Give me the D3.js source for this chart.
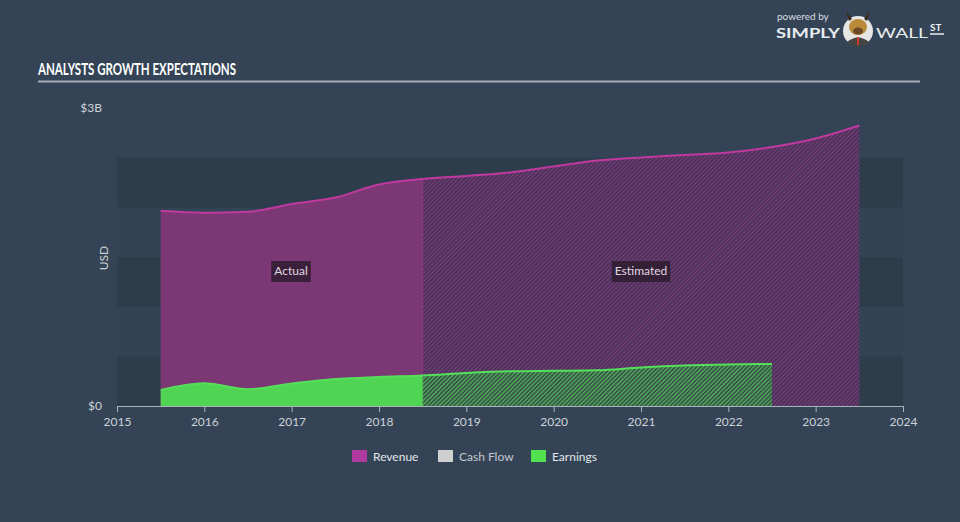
<!DOCTYPE html>
<html><head><meta charset="utf-8">
<script src="https://cdn.jsdelivr.net/npm/d3@7"></script>
<style>
html,body{margin:0;padding:0;background:#344456;}
svg{display:block;}
text{font-family:"Lato","Open Sans",sans-serif;}
</style></head>
<body>
<svg id="chart" width="960" height="522"></svg>
<script>
// ---- data ----
const periods = [2015.5,2016,2016.5,2017,2017.5,2018,2018.5,2019,2019.5,2020,2020.5,2021,2021.5,2022,2022.5,2023,2023.5];
const revenue = [1.966,1.946,1.956,2.034,2.099,2.230,2.285,2.316,2.351,2.411,2.472,2.502,2.527,2.552,2.607,2.693,2.824];
const earningsPeriods = [2015.5,2016,2016.5,2017,2017.5,2018,2018.5,2019,2019.5,2020,2020.5,2021,2021.5,2022,2022.5];
const earnings = [0.161,0.229,0.168,0.227,0.272,0.292,0.307,0.332,0.349,0.354,0.359,0.388,0.408,0.418,0.423];
const splitYear = 2018.5;
const xTicks = [2015,2016,2017,2018,2019,2020,2021,2022,2023,2024];
const yTicks = [0,3];
const yTickLabels = ["$0","$3B"];
const legendItems = ["Revenue","Cash Flow","Earnings"];
const bandValues = [0,0.5,1,1.5,2];

const svg = d3.select("#chart");
const W = 960, H = 522;
svg.append("rect").attr("width",W).attr("height",H).attr("fill","#344456");

const x = d3.scaleLinear().domain([2015,2024]).range([117,903]);
const y = d3.scaleLinear().domain([0,3]).range([406,108]);

// defs: patterns and clips
const defs = svg.append("defs");
function hatch(id, bg, fg){
  const p = defs.append("pattern").attr("id",id).attr("patternUnits","userSpaceOnUse")
    .attr("width",3).attr("height",3).attr("patternTransform","rotate(45)");
  p.append("rect").attr("width",3).attr("height",3).attr("fill",bg);
  p.append("line").attr("x1",0).attr("y1",0).attr("x2",0).attr("y2",3)
    .attr("stroke",fg).attr("stroke-width",1.6);
}
hatch("hatchRev","#4a3457","#8e3b8c");
hatch("hatchEarn","#3b5a4c","#55d35a");
defs.append("clipPath").attr("id","clipActual").append("rect")
  .attr("x",0).attr("y",0).attr("width",x(splitYear)).attr("height",H);
defs.append("clipPath").attr("id","clipEst").append("rect")
  .attr("x",x(splitYear)).attr("y",0).attr("width",W-x(splitYear)).attr("height",H);

// title
svg.append("text").attr("x",38).attr("y",75).text("ANALYSTS GROWTH EXPECTATIONS")
  .attr("fill","#ffffff").attr("font-family","'DejaVu Sans Condensed','Liberation Sans Narrow',sans-serif")
  .attr("font-weight","bold").attr("font-size",17).attr("textLength",198).attr("lengthAdjust","spacingAndGlyphs");
svg.append("line").attr("x1",38).attr("x2",920).attr("y1",81.5).attr("y2",81.5)
  .attr("stroke","#a3abb3").attr("stroke-width",2);

// logo
svg.append("text").attr("x",777).attr("y",20).text("powered by").attr("fill","#d8dde2").attr("font-size",10);
svg.append("text").attr("x",776).attr("y",38).text("SIMPLY").attr("fill","#e8ecef").attr("font-size",14).attr("font-weight","bold").attr("textLength",64).attr("lengthAdjust","spacingAndGlyphs");
const logo = svg.append("g").attr("transform","translate(858,31)");
logo.append("circle").attr("r",15).attr("fill","#e6e6e6");
logo.append("path").attr("d","M-11,11 Q0,2 11,11 A15,15 0 0 1 -11,11Z").attr("fill","#444");
logo.append("ellipse").attr("cx",0).attr("cy",-4).attr("rx",9).attr("ry",8).attr("fill","#b98a3a");
logo.append("path").attr("d","M-9,-10 L-12,-20 L-6,-12Z M9,-10 L12,-20 L6,-12Z").attr("fill","#3a2a1a");
logo.append("ellipse").attr("cx",0).attr("cy",0).attr("rx",5).attr("ry",3.5).attr("fill","#6b4a2a");
logo.append("rect").attr("x",-1).attr("y",6).attr("width",2).attr("height",8).attr("fill","#d23b2b");
svg.append("text").attr("x",876).attr("y",38).text("WALL").attr("fill","#e8ecef").attr("font-size",14).attr("textLength",52).attr("lengthAdjust","spacingAndGlyphs");
svg.append("text").attr("x",930).attr("y",31).text("ST").attr("fill","#e8ecef").attr("font-size",10).attr("font-weight","bold");
svg.append("line").attr("x1",930).attr("x2",944).attr("y1",34).attr("y2",34).attr("stroke","#e8ecef").attr("stroke-width",1.5);

// bands
svg.append("g").selectAll("rect").data(bandValues).join("rect")
  .attr("x",x(2015)).attr("width",x(2024)-x(2015))
  .attr("y",d=>y(d+0.5)).attr("height",d=>y(d)-y(d+0.5))
  .attr("fill",(d,i)=> i%2===0 ? "#2e3d4c" : "#324354");

// areas
const curve = d3.curveMonotoneX;
const revData = periods.map((p,i)=>({p, v:revenue[i]}));
const earnData = earningsPeriods.map((p,i)=>({p, v:earnings[i]}));
const area = d3.area().x(d=>x(d.p)).y0(y(0)).y1(d=>y(d.v)).curve(curve);
const line = d3.line().x(d=>x(d.p)).y(d=>y(d.v)).curve(curve);

function drawSeries(data, fillA, fillE, stroke){
  svg.append("path").datum(data).attr("d",area).attr("fill",fillA).attr("clip-path","url(#clipActual)");
  svg.append("path").datum(data).attr("d",area).attr("fill",fillE).attr("clip-path","url(#clipEst)");
  svg.append("path").datum(data).attr("d",line).attr("fill","none").attr("stroke",stroke).attr("stroke-width",2);
  svg.append("line").attr("x1",x(splitYear)).attr("x2",x(splitYear))
    .attr("y1",y(0)).attr("y2",y(data.find(d=>d.p===splitYear).v))
    .attr("stroke",stroke).attr("stroke-opacity",0.5).attr("stroke-width",1);
}
drawSeries(revData,"#7b3875","url(#hatchRev)","#c0399f");
drawSeries(earnData,"#50d454","url(#hatchEarn)","#55e05a");

// labels Actual / Estimated
function tag(cx, cy, txt){
  const g = svg.append("g");
  const t = g.append("text").attr("x",cx).attr("y",cy+4).attr("text-anchor","middle")
    .attr("fill","#e0d8e0").attr("font-size",12).text(txt);
  const bb = t.node().getBBox();
  g.insert("rect","text").attr("x",bb.x-3).attr("y",cy-10).attr("width",bb.width+6).attr("height",21)
    .attr("fill","#2a1a2c").attr("fill-opacity",0.8);
}
tag(291,271,"Actual");
tag(641,271,"Estimated");

// x axis
const xAxis = svg.append("g").attr("transform",`translate(0,${y(0)})`)
  .call(d3.axisBottom(x).tickValues(xTicks).tickFormat(d3.format("d")).tickSize(6).tickSizeOuter(6));
xAxis.select(".domain").attr("stroke","#a9b3bd");
xAxis.selectAll(".tick line").attr("stroke","#a9b3bd");
xAxis.selectAll(".tick text").attr("fill","#ccd2d8").attr("font-size",12)
  .attr("font-family","Lato, 'Open Sans', sans-serif").attr("dy","0.9em");

// y labels
svg.append("g").selectAll("text").data(yTicks).join("text")
  .attr("x",102).attr("y",d=>y(d)+4).attr("text-anchor","end")
  .attr("fill","#ccd2d8").attr("font-size",12).text((d,i)=>yTickLabels[i]);
svg.append("text").attr("transform",`translate(108,${y(1.5)+1}) rotate(-90)`)
  .attr("text-anchor","middle").attr("fill","#ccd2d8").attr("font-size",12).text("USD");

// legend
const legendColors = ["#b0399f","#d0d0d0","#50e050"];
const legendX = [352,438,531];
const lg = svg.append("g").selectAll("g").data(legendItems).join("g")
  .attr("transform",(d,i)=>`translate(${legendX[i]},450)`);
lg.append("rect").attr("width",15).attr("height",12).attr("fill",(d,i)=>legendColors[i]);
lg.append("text").attr("x",21).attr("y",10.5).attr("fill",(d,i)=> i===1 ? "#c3c9cf" : "#e2e6ea")
  .attr("font-size",12).text(d=>d);
</script>
</body></html>
